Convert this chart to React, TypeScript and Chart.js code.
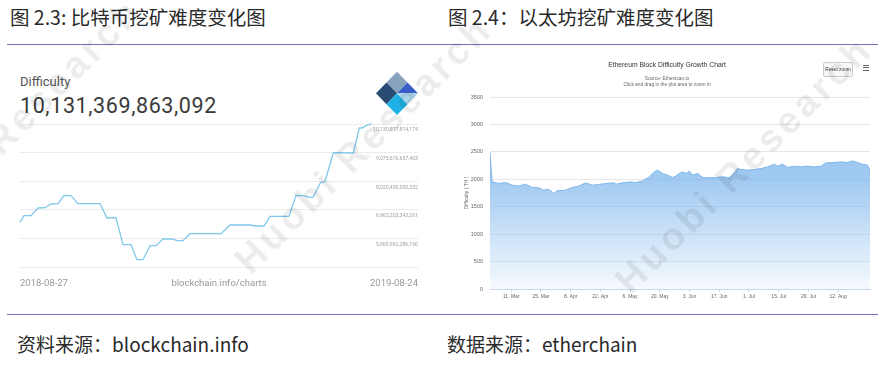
import React, { useEffect, useRef } from "react";
import { Chart, registerables } from "chart.js";
Chart.register(...registerables);

// ---------- Figure 2.3: Bitcoin difficulty (blockchain.info) ----------
const btcDays = [0, 4.1, 11.3, 18.5, 25.7, 31.9, 39.1, 45.2, 52.4, 59.6, 82.3, 89.5, 98.7, 105.9, 114.1, 120.3, 126.5, 133.7, 139.9, 147.1, 156.3, 161.5, 167.6, 174.8, 206.7, 216.0, 236.5, 242.7, 250.9, 257.1, 276.6, 283.8, 292.1, 297.2, 301.3, 309.0, 313.7, 322.2, 342.8, 348.9, 351.4, 356.5, 361.7];
const btcDifficultyT = [6.5, 6.747, 6.747, 7.032, 7.043, 7.179, 7.19, 7.497, 7.486, 7.19, 7.19, 6.663, 6.674, 5.677, 5.677, 5.124, 5.124, 5.64, 5.64, 5.888, 5.888, 5.825, 5.825, 6.083, 6.083, 6.404, 6.404, 6.367, 6.367, 6.722, 6.722, 7.497, 7.486, 7.423, 7.423, 7.965, 8.013, 9.072, 9.061, 9.983, 9.983, 10.079, 10.131];
const btcTickValues = [4.8547, 5.91, 6.9652, 8.0204, 9.0757, 10.1309];
const btcTickLabels = ["", "5,909,962,286,190", "6,965,203,343,261", "8,020,439,500,332", "9,075,676,657,403", "10,130,917,814,174"];
const btcStartLabel = "2018-08-27";
const btcEndLabel = "2019-08-24";
const btcCurrent = "10,131,369,863,092";

// ---------- Figure 2.4: Ethereum difficulty (etherchain) ----------
const ethDays = [0, 1, 4.2, 7.3, 10.5, 13.6, 16.7, 19.9, 23, 25.3, 27.7, 30, 31.6, 35.6, 38.7, 41.8, 45, 48.1, 51.2, 54.4, 58.3, 59.4, 62.5, 65.7, 68.8, 71.9, 75.1, 77.4, 79, 81.3, 83.7, 86, 87.6, 89.1, 90.8, 92.4, 93.9, 95.5, 97.8, 100.2, 103.3, 106.5, 109.6, 112.7, 115.1, 116.6, 118.2, 121.3, 124.5, 127.6, 130.8, 133.9, 135.5, 137.8, 140.2, 143.3, 146.5, 149.6, 152.7, 155.9, 158.2, 162.1, 165.3, 168.4, 170.8, 173.1, 175.5, 177.8, 179];
const ethDifficultyTH = [2490, 1953, 1923, 1942, 1893, 1875, 1911, 1851, 1844, 1802, 1815, 1742, 1789, 1802, 1851, 1875, 1935, 1893, 1905, 1923, 1935, 1911, 1935, 1953, 1942, 1971, 2044, 2135, 2166, 2106, 2075, 2033, 2057, 2106, 2135, 2106, 2148, 2075, 2106, 2033, 2026, 2033, 2044, 2026, 2120, 2197, 2179, 2166, 2179, 2197, 2226, 2275, 2239, 2275, 2215, 2239, 2226, 2239, 2226, 2239, 2299, 2306, 2317, 2306, 2335, 2306, 2275, 2257, 2179];
const ethXTickDays = [10, 24, 38, 52, 66, 80, 94, 108, 122, 136, 150, 164];
const ethXTickLabels = ["11. Mar", "25. Mar", "8. Apr", "22. Apr", "6. May", "20. May", "3. Jun", "17. Jun", "1. Jul", "15. Jul", "29. Jul", "12. Aug"];
const ethYTicks = [0, 500, 1000, 1500, 2000, 2500, 3000, 3500];

function BtcChart() {
  const ref = useRef<HTMLCanvasElement>(null);
  useEffect(() => {
    const chart = new Chart(ref.current as HTMLCanvasElement, {
      type: "line",
      data: {
        datasets: [
          {
            data: btcDays.map((d, i) => ({ x: d, y: btcDifficultyT[i] })),
            borderColor: "#80c8ec",
            borderWidth: 1.3,
            pointRadius: 0,
            fill: false,
            tension: 0,
            clip: 4,
          },
        ],
      },
      options: {
        animation: false,
        responsive: false,
        devicePixelRatio: 1,
        layout: { padding: { left: 20, right: 22, top: 24, bottom: 23 } },
        plugins: { legend: { display: false }, tooltip: { enabled: false }, title: { display: false } },
        scales: {
          x: { type: "linear", display: false, min: 0, max: 409.3 },
          y: {
            type: "linear",
            position: "right",
            min: btcTickValues[0],
            max: btcTickValues[btcTickValues.length - 1],
            afterBuildTicks: (s: any) => {
              s.ticks = btcTickValues.map((v) => ({ value: v }));
            },
            afterFit: (s: any) => {
              s.width = 0;
            },
            grid: { color: "#ececec", drawTicks: false, lineWidth: 1 },
            border: { display: false },
            ticks: {
              mirror: true,
              padding: 0,
              labelOffset: 6,
              autoSkip: false,
              font: { size: 5.2, family: "Roboto" },
              color: "#a0a0a0",
              callback: (_v: any, i: number) => btcTickLabels[i],
            },
          },
        },
      },
    });
    return () => chart.destroy();
  }, []);
  return (
    <canvas
      ref={ref}
      width={440}
      height={190}
      style={{ position: "absolute", left: 0, top: 100, width: 440, height: 190 }}
    />
  );
}

function EthChart() {
  const ref = useRef<HTMLCanvasElement>(null);
  useEffect(() => {
    const chart = new Chart(ref.current as HTMLCanvasElement, {
      type: "line",
      data: {
        datasets: [
          {
            data: ethDays.map((d, i) => ({ x: d, y: ethDifficultyTH[i] })),
            borderColor: "#7cb5ec",
            borderWidth: 1,
            pointRadius: 0,
            tension: 0,
            fill: "origin",
            backgroundColor: (ctx: any) => {
              const { chart } = ctx;
              const area = chart.chartArea;
              if (!area) return "rgba(124,181,236,0.5)";
              const g = chart.ctx.createLinearGradient(0, area.top, 0, area.bottom);
              g.addColorStop(0, "rgba(124,181,236,0.85)");
              g.addColorStop(0.43, "rgba(124,181,236,0.72)");
              g.addColorStop(1, "rgba(124,181,236,0.07)");
              return g;
            },
          },
        ],
      },
      options: {
        animation: false,
        responsive: false,
        devicePixelRatio: 1,
        layout: { padding: { left: 20, right: 8, top: 47, bottom: 7 } },
        plugins: { legend: { display: false }, tooltip: { enabled: false }, title: { display: false } },
        scales: {
          x: {
            type: "linear",
            min: 0,
            max: 179,
            afterBuildTicks: (s: any) => {
              s.ticks = ethXTickDays.map((v) => ({ value: v }));
            },
            afterFit: (s: any) => {
              s.height = 14;
            },
            grid: { drawOnChartArea: false, drawTicks: true, tickLength: 3, color: "#ccd6eb" },
            border: { display: true, color: "#ccd6eb" },
            ticks: {
              padding: 2,
              autoSkip: false,
              maxRotation: 0,
              font: { size: 5, family: "Liberation Sans" },
              color: "#666",
              callback: (_v: any, i: number) => ethXTickLabels[i],
            },
          },
          y: {
            type: "linear",
            min: ethYTicks[0],
            max: ethYTicks[ethYTicks.length - 1],
            afterBuildTicks: (s: any) => {
              s.ticks = ethYTicks.map((v) => ({ value: v }));
            },
            afterFit: (s: any) => {
              s.width = 30;
            },
            grid: { color: "#e6e6e6", drawTicks: false },
            border: { display: false },
            title: {
              display: true,
              text: "Difficulty ( TH )",
              font: { size: 5, family: "Liberation Sans" },
              color: "#666",
              padding: { top: 3.5, bottom: 0 },
            },
            ticks: {
              padding: 7,
              autoSkip: false,
              font: { size: 5.5, family: "Liberation Sans" },
              color: "#666",
              callback: (v: any) => String(v),
            },
          },
        },
      },
    });
    return () => chart.destroy();
  }, []);
  return (
    <canvas
      ref={ref}
      width={438}
      height={260}
      style={{ position: "absolute", left: 440, top: 50, width: 438, height: 260 }}
    />
  );
}

function BlockchainLogo() {
  return (
    <svg width={50} height={50} style={{ position: "absolute", left: 372, top: 70 }}>
      <polygon points="25,1.7 35.5,12.5 25,23.3 14.5,12.5" fill="#86a3bb" />
      <polygon points="14.5,12.5 25,23.3 14.5,34.2 4,23.3" fill="#284b73" />
      <polygon points="25,23.3 35.5,34.2 25,45 14.5,34.2" fill="#1fb1e6" />
      <polygon points="35.5,12.5 46,23.3 25,23.3" fill="#3b5dc8" />
      <polygon points="25,23.3 46,23.3 35.5,34.2" fill="#a9d5ec" />
    </svg>
  );
}

const abs = (o: React.CSSProperties): React.CSSProperties => ({ position: "absolute", whiteSpace: "nowrap", lineHeight: 1, ...o });

function Watermark({ x, y }: { x: number; y: number }) {
  return (
    <div
      style={abs({
        left: x,
        top: y - 38,
        fontSize: 38,
        fontWeight: "bold",
        letterSpacing: 4,
        fontFamily: "'Liberation Sans', Arial, sans-serif",
        color: "rgba(0,0,0,0.075)",
        transform: "rotate(-45deg)",
        transformOrigin: "0 100%",
        pointerEvents: "none",
      })}
    >
      Huobi Research
    </div>
  );
}

export default function App() {
  const cjk = "'Noto Sans CJK SC', 'Noto Sans', sans-serif";
  return (
    <div
      style={{
        position: "fixed",
        left: 0,
        top: 0,
        width: 878,
        height: 370,
        background: "#fff",
        overflow: "hidden",
        fontFamily: cjk,
      }}
    >
      {/* Titles */}
      <div style={abs({ left: 10, top: 7, fontSize: 19.5, color: "#2a2a2a", fontFamily: cjk })}>图 2.3: 比特币挖矿难度变化图</div>
      <div style={abs({ left: 448, top: 7, fontSize: 19.5, color: "#2a2a2a", fontFamily: cjk })}>图 2.4：以太坊挖矿难度变化图</div>
      <div style={abs({ left: 7, top: 43.5, width: 871, height: 1.6, background: "#7272bd" })} />

      {/* Left chart (blockchain.info) */}
      <div style={abs({ left: 20, top: 75, fontSize: 13, color: "#555", fontFamily: "Roboto, sans-serif" })}>Difficulty</div>
      <div style={abs({ left: 20, top: 94.5, fontSize: 21.5, letterSpacing: 0.6, color: "#3a3a3a", fontFamily: "Roboto, sans-serif" })}>{btcCurrent}</div>
      <BlockchainLogo />
      <BtcChart />
      <div style={abs({ left: 20, top: 278, fontSize: 9.5, color: "#999", fontFamily: "Roboto, sans-serif" })}>{btcStartLabel}</div>
      <div style={abs({ left: 119, width: 200, textAlign: "center", top: 278, fontSize: 9.5, color: "#999", fontFamily: "Roboto, sans-serif" })}>blockchain.info/charts</div>
      <div style={abs({ left: 318, width: 100, textAlign: "right", top: 278, fontSize: 9.5, color: "#999", fontFamily: "Roboto, sans-serif" })}>{btcEndLabel}</div>

      {/* Right chart (etherchain) */}
      <EthChart />
      <div style={abs({ left: 567, width: 200, textAlign: "center", top: 62, fontSize: 6.8, color: "#333", fontFamily: "'Liberation Sans', sans-serif" })}>
        Ethereum Block Difficulty Growth Chart
      </div>
      <div style={abs({ left: 567, width: 200, textAlign: "center", top: 76.5, fontSize: 4.8, color: "#666", fontFamily: "'Liberation Sans', sans-serif" })}>
        Source: Etherscan.io
      </div>
      <div style={abs({ left: 567, width: 200, textAlign: "center", top: 83.2, fontSize: 4.8, color: "#666", fontFamily: "'Liberation Sans', sans-serif" })}>
        Click and drag in the plot area to zoom in
      </div>
      <div
        style={abs({
          left: 823,
          top: 62,
          width: 30,
          height: 15,
          boxSizing: "border-box",
          border: "1px solid #cccccc",
          borderRadius: 2,
          background: "#f7f7f7",
          fontSize: 4.8,
          lineHeight: "13px",
          textAlign: "center",
          color: "#333",
          fontFamily: "'Liberation Sans', sans-serif",
        })}
      >
        Reset zoom
      </div>
      <div style={abs({ left: 863, top: 64.5, width: 6, height: 1.2, background: "#666" })} />
      <div style={abs({ left: 863, top: 67, width: 6, height: 1.2, background: "#666" })} />
      <div style={abs({ left: 863, top: 69.5, width: 6, height: 1.2, background: "#666" })} />

      {/* Watermarks */}
      <Watermark x={-95} y={262} />
      <Watermark x={255} y={280} />
      <Watermark x={635} y={300} />

      {/* Bottom rule and sources */}
      <div style={abs({ left: 7, top: 313.5, width: 871, height: 1.6, background: "#7272bd" })} />
      <div style={abs({ left: 17, top: 333.5, fontSize: 19, color: "#2a2a2a", fontFamily: cjk })}>资料来源：blockchain.info</div>
      <div style={abs({ left: 447, top: 333.5, fontSize: 19, color: "#2a2a2a", fontFamily: cjk })}>数据来源：etherchain</div>
    </div>
  );
}
